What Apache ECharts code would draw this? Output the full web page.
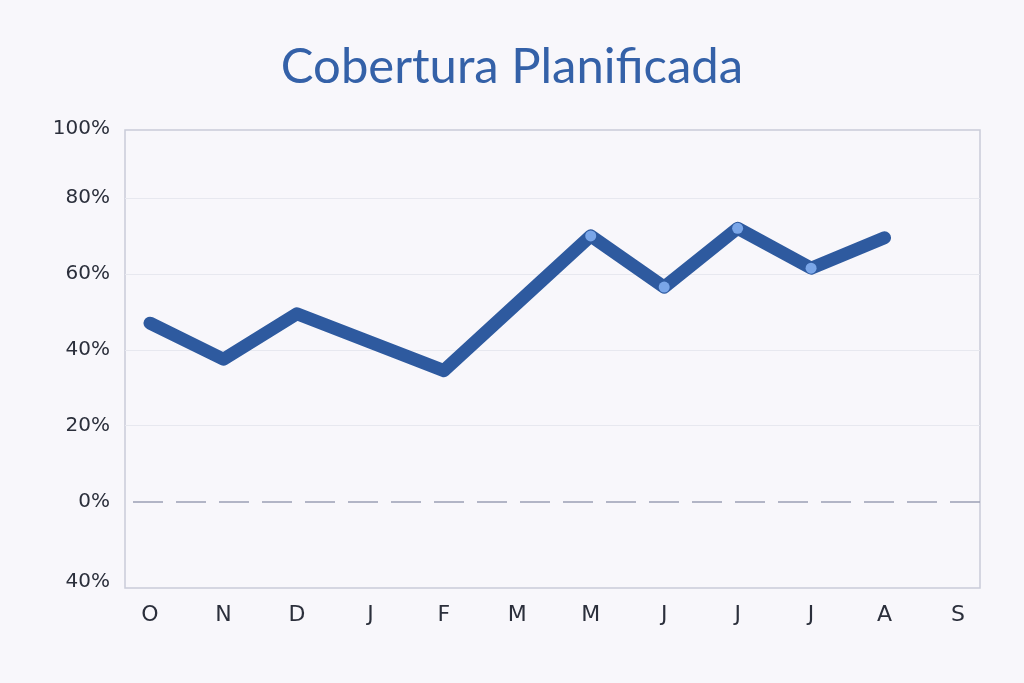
<!DOCTYPE html>
<html lang="es">
<head>
<meta charset="UTF-8">
<title>Cobertura Planificada</title>
<script src="https://cdn.jsdelivr.net/npm/echarts@6.0.0/dist/echarts.min.js"></script>
<style>
  html, body { margin: 0; padding: 0; background: #f8f7fb; }
  #main { width: 1024px; height: 683px; }
</style>
</head>
<body>
<div id="main"></div>
<script>
// meses (octubre a septiembre)
const months = ['O', 'N', 'D', 'J', 'F', 'M', 'M', 'J', 'J', 'J', 'A', 'S'];
// cobertura en %, null = sin dato (la línea los une)
const coverage = [47, 37.5, 49.5, null, 34.5, null, 70, 56.5, 72, 61.5, 69.5, null];
// meses que llevan punto
const withDot = [false, false, false, false, false, false, true, true, true, true, false, false];
// etiquetas del eje Y tal como aparecen (-20 .. 100)
const yTicks = [-20, 0, 20, 40, 60, 80, 100];
const yTickLabels = ['40%', '0%', '20%', '40%', '60%', '80%', '100%'];

const chart = echarts.init(document.getElementById('main'));

const seriesData = coverage.map((v, i) => ({
  value: v,
  symbol: withDot[i] ? 'circle' : 'none'
}));

const frameColor = '#c9ccd9';
const gridColor = '#e7e8ef';
const labelColor = '#2b2f3b';
const plotTop = 122, plotBottom = 105.5;
const yFont = { fontFamily: 'DejaVu Sans', fontSize: 20, color: labelColor };

chart.setOption({
  backgroundColor: '#f8f7fb',
  title: {
    text: 'Cobertura Planificada',
    left: 'center',
    top: 38,
    textStyle: { fontFamily: 'Lato', fontSize: 49, fontWeight: 'normal', color: '#3461a8' }
  },
  grid: [
    // marco
    { left: 125, right: 44, top: 130, bottom: 95, show: true, borderColor: frameColor, borderWidth: 1.5 },
    // líneas de referencia + etiquetas Y
    { left: 125, right: 44, top: plotTop, bottom: plotBottom },
    // datos
    { left: 113.3, right: 29.3, top: plotTop, bottom: plotBottom }
  ],
  xAxis: [
    { gridIndex: 0, type: 'value', show: false },
    { gridIndex: 1, type: 'value', show: false },
    {
      gridIndex: 2,
      type: 'category',
      data: months,
      boundaryGap: true,
      axisLine: { show: false },
      axisTick: { show: false },
      axisLabel: { color: labelColor, fontSize: 22, fontFamily: 'DejaVu Sans', margin: 27 }
    }
  ],
  yAxis: [
    { gridIndex: 0, type: 'value', show: false },
    {
      gridIndex: 1,
      type: 'value',
      min: -20, max: 100, interval: 20,
      axisLine: { show: false },
      axisTick: { show: false },
      axisLabel: Object.assign({}, yFont, {
        margin: 15,
        formatter: v => {
          const t = yTickLabels[yTicks.indexOf(v)];
          if (v === 100) return '{t|' + t + '}';
          if (v === -20) return '{b|' + t + '}';
          return t;
        },
        rich: {
          t: Object.assign({}, yFont, { padding: [14, 0, 0, 0] }),
          b: Object.assign({}, yFont, { padding: [8, 0, 0, 0] })
        }
      }),
      splitLine: {
        lineStyle: {
          color: ['transparent', 'transparent', gridColor, gridColor, gridColor, gridColor, 'transparent'],
          width: 1.2
        }
      }
    },
    {
      gridIndex: 1,
      type: 'value',
      position: 'right',
      min: -20, max: 100, interval: 20,
      axisLine: { show: false },
      axisTick: { show: false },
      axisLabel: { show: false },
      splitLine: {
        lineStyle: {
          color: ['transparent', '#9aa0b5', 'transparent', 'transparent', 'transparent', 'transparent', 'transparent'],
          width: 1.5,
          type: [30, 13],
          dashOffset: 35
        }
      }
    },
    { gridIndex: 2, type: 'value', min: -20, max: 100, interval: 20, show: false }
  ],
  series: [{
    type: 'line',
    xAxisIndex: 2,
    yAxisIndex: 3,
    data: seriesData,
    connectNulls: true,
    symbolSize: 11,
    lineStyle: { color: '#2e5a9f', width: 13, cap: 'round', join: 'round' },
    itemStyle: { color: '#7aa6e8', borderWidth: 0 },
    z: 3
  }]
});
</script>
</body>
</html>
